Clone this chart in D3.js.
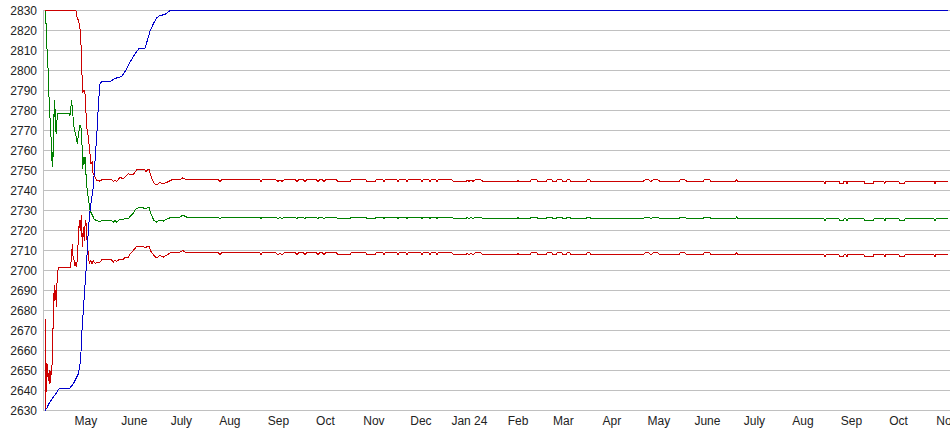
<!DOCTYPE html>
<html>
<head>
<meta charset="utf-8">
<script src="https://cdn.jsdelivr.net/npm/d3@7"></script>
<style>
  html, body { margin: 0; padding: 0; background: #fff; }
  svg { display: block; }
  text { font-family: "Liberation Sans", Arial, sans-serif; font-size: 12px; fill: #222; }
</style>
</head>
<body>
<script>
// ---------- DATA ----------
// days since 2023-04-05 (UTC)
const START_UTC = Date.UTC(2023, 3, 5);

const monthLabels = ["May","June","July","Aug","Sep","Oct","Nov","Dec","Jan 24","Feb","Mar","Apr","May","June","July","Aug","Sep","Oct","Nov"];

const blueDays = [0,1.0,2.5,5.2,7.0,8.4,9.5,15.5,18.0,21.2,22.7,23.4,24.4,25.5,26.6,27.6,28.7,30.8,31.9,33.3,34.2,35.1,36.1,41.4,43.6,45.7,48.9,50.4,52.1,54.2,57.4,60.2,63.8,65.3,67.0,69.1,71.3,73.4,76.6,79.8,576.8];
const blueVals = [2630,2631,2633.5,2636.6,2638.5,2640.5,2641,2641,2643.3,2648.3,2655,2668.3,2680,2693,2705,2720,2730,2741.7,2755,2771.7,2785,2793.3,2794.5,2794.5,2795.5,2796.3,2797,2798.7,2800.8,2804.2,2808.3,2811.2,2811.2,2815,2819.7,2823.3,2826.3,2827.5,2828,2830,2830];

const upperEarlyDays = [0,19.7,20.6,21.2,21.8,22.7,23.4,24.0,24.8,25.5,26.6,27.6,28.7,29.3,30.0,30.4,30.8,31.9,33.0,35.1,36.1,42.5,43.6,44.6,45.7,47.8,49.9,53.1,56.3,58.5,63.8,64.5,65.3,66.5,67.4,69.5,71.3,73.4,75.5,78.0,80.8,86.1,87.9];
const upperEarlyVals = [2830,2830,2825.8,2825.3,2823.3,2818.3,2801.7,2789,2790.3,2788.3,2771.7,2766.7,2758.3,2753.3,2754.2,2749.2,2748.3,2746.7,2745,2744.7,2745.3,2745.3,2744.5,2745.3,2744.5,2746.7,2745.8,2748.3,2748,2750.3,2750.3,2749.5,2750.3,2750.3,2747.5,2743.7,2742.8,2744,2743.3,2744.2,2745.3,2745.3,2746.3];

const greenEarlyDays = [0,0.6,1.0,1.7,2.5,3.1,3.8,4.2,4.6,4.9,5.5,5.9,6.3,6.5,7.0,7.4,8.0,15.5,15.9,16.5,17.0,17.4,18.0,18.6,19.5,20.6,21.5,22.3,22.9,23.8,24.0,24.7,25.0,25.5,26.1,26.9,27.8,28.7,29.8,30.8,31.2,32.5,34.0,35.1,36.1,42.5,43.6,44.6,45.7,47.8,49.9,51.0,53.1,54.2,56.3,58.0,59.5,62.7,63.8,65.3,66.5,67.4,69.5,71.3,73.4,75.5,78.0,80.8,86.1,87.9];
const greenEarlyVals = [2830,2823.3,2813.3,2805,2786.7,2776.7,2766.7,2755,2759.2,2751.7,2771.7,2785,2776.7,2780.8,2768.3,2773.3,2778.3,2778.3,2777.5,2781.7,2785.3,2780,2775.8,2770.8,2768.3,2763.3,2769.2,2772.5,2771.7,2760,2750.8,2756.7,2753.3,2756.7,2748.3,2740,2735,2730,2728.3,2726.7,2725.8,2725,2724.7,2724.2,2725,2725,2724.2,2725,2724.2,2725.8,2725.4,2726.3,2725.8,2727,2728.7,2730.8,2731.3,2731.3,2730.8,2731.3,2731.3,2728.7,2725,2724.2,2725.3,2724.7,2725.8,2726.7,2726.7,2727.7];

const lowerEarlyDays = [0,0.1,0.6,1.0,1.4,2.0,2.7,3.1,3.6,4.2,4.9,5.2,5.9,6.3,6.8,7.2,7.8,8.9,16.3,17.0,17.4,17.8,18.5,19.1,19.7,20.2,20.8,21.5,21.8,22.5,23.1,23.8,24.4,25.0,25.7,26.3,26.9,27.6,28.2,29.1,30.0,30.8,32.1,33.3,35.1,36.1,42.5,43.6,44.6,45.7,47.8,49.9,51.0,53.1,54.2,56.3,58.5,62.7,63.8,65.3,66.5,67.4,69.5,71.3,73.4,75.5,78.0,80.8,86.1,87.9];
const lowerEarlyVals = [2630,2675.8,2653.3,2639.2,2653.3,2645,2650,2643.3,2649.2,2648.3,2661.7,2680,2692.5,2685,2690,2681.7,2699.2,2701.7,2701.7,2708.3,2713.3,2707.5,2705,2702.5,2704.2,2701.7,2710,2718.3,2725,2720,2727.5,2711.7,2721.7,2715,2725,2723.3,2713.3,2708.3,2703.3,2705,2703.3,2705,2703.3,2704.2,2704.2,2705.3,2705.3,2704.2,2705.3,2704.6,2705.8,2705.3,2706.7,2706.3,2708.3,2710,2712,2712,2711.3,2712,2712,2709.7,2707.5,2706.3,2707.5,2706.7,2707.8,2709.2,2709.2,2710];

// shared day positions of the long, nearly flat tail
const lateDays = [90.4,110.6,111.7,112.8,137.2,137.9,138.5,147.5,148.7,150.0,
  151.3,152.6,159.9,160.9,161.8,165.0,166.0,166.9,173.3,174.3,
  175.2,177.1,178.1,179.1,186.1,187.0,194.7,195.3,204.9,205.5,
  210.7,211.3,215.8,216.4,217.1,224.7,225.4,226.0,230.5,231.1,
  231.7,240.0,240.7,241.3,245.2,245.8,246.4,249.6,250.3,250.9,
  259.8,261.1,268.8,269.4,270.7,272.0,273.3,274.5,278.4,279.6,
  301.4,302.0,302.6,309.7,310.3,314.1,314.8,319.9,320.5,323.7,
  324.4,326.3,326.9,330.1,330.8,332.7,333.3,335.2,335.9,345.5,
  346.1,348.0,348.6,381.8,383.1,385.6,386.9,388.2,391.4,392.7,
  404.8,405.4,408.7,409.9,420.2,420.8,424.6,425.3,440.6,441.6,
  442.5,497.4,498.0,498.7,507.0,507.6,509.5,510.2,511.5,512.1,
  512.7,523.0,523.6,528.7,529.3,535.7,536.3,536.9,545.3,545.9,
  548.5,549.2,567.7,568.3,568.9,576.8];

const upperLateVals = [2745.3,2745.3,2744.5,2745.3,2745.3,2744.5,2745.3,2745.3,2744.5,2745.3,
  2744.5,2745.3,2745.3,2744.5,2745.3,2745.3,2744.5,2745.3,2745.3,2744.5,
  2745.3,2745.3,2744.5,2745.3,2745.3,2744.5,2744.5,2745.3,2745.3,2744.5,
  2744.5,2745.3,2745.3,2744.5,2745.3,2745.3,2744.5,2745.3,2745.3,2744.5,
  2745.3,2745.3,2744.5,2745.3,2745.3,2744.5,2745.3,2745.3,2744.5,2745.3,
  2745.3,2744.5,2744.5,2745.3,2744.5,2745.3,2744.5,2745.3,2745.3,2744.5,
  2744.5,2745.3,2744.5,2744.5,2745.3,2745.3,2744.5,2744.5,2745.3,2745.3,
  2744.5,2744.5,2745.3,2745.3,2744.5,2744.5,2745.3,2745.3,2744.5,2744.5,
  2745.3,2745.3,2744.5,2744.5,2745.3,2745.3,2744.5,2745.3,2745.3,2744.5,
  2744.5,2745.3,2745.3,2744.5,2744.5,2745.3,2745.3,2744.5,2744.5,2745.3,
  2744.5,2744.5,2743.4,2744.5,2744.5,2743.4,2743.4,2744.5,2744.5,2743.4,
  2744.5,2744.5,2743.4,2743.4,2744.5,2744.5,2743.4,2744.5,2744.5,2743.4,
  2743.4,2744.5,2744.5,2743.4,2744.5,2744.5];

const greenLateVals = [2726.7,2726.7,2725.8,2726.7,2726.7,2725.8,2726.7,2726.7,2725.8,2726.7,
  2725.8,2726.7,2726.7,2725.8,2726.7,2726.7,2725.8,2726.7,2726.7,2725.8,
  2726.7,2726.7,2725.8,2726.7,2726.7,2725.8,2725.8,2726.7,2726.7,2725.8,
  2725.8,2726.7,2726.7,2725.8,2726.7,2726.7,2725.8,2726.7,2726.7,2725.8,
  2726.7,2726.7,2725.8,2726.7,2726.7,2725.8,2726.7,2726.7,2725.8,2726.7,
  2726.7,2725.8,2725.8,2726.7,2725.8,2726.7,2725.8,2726.7,2726.7,2725.8,
  2725.8,2726.7,2725.8,2725.8,2726.7,2726.7,2725.8,2725.8,2726.7,2726.7,
  2725.8,2725.8,2726.7,2726.7,2725.8,2725.8,2726.7,2726.7,2725.8,2725.8,
  2726.7,2726.7,2725.8,2725.8,2726.7,2726.7,2725.8,2726.7,2726.7,2725.8,
  2725.8,2726.7,2726.7,2725.8,2725.8,2726.7,2726.7,2725.8,2725.8,2726.7,
  2725.8,2725.8,2724.8,2725.8,2725.8,2724.8,2724.8,2725.8,2725.8,2724.8,
  2725.8,2725.8,2724.8,2724.8,2725.8,2725.8,2724.8,2725.8,2725.8,2724.8,
  2724.8,2725.8,2725.8,2724.8,2725.8,2725.8];

const lowerLateVals = [2708.8,2708.8,2707.9,2708.8,2708.8,2707.9,2708.8,2708.8,2707.9,2708.8,
  2707.9,2708.8,2708.8,2707.9,2708.8,2708.8,2707.9,2708.8,2708.8,2707.9,
  2708.8,2708.8,2707.9,2708.8,2708.8,2707.9,2707.9,2708.8,2708.8,2707.9,
  2707.9,2708.8,2708.8,2707.9,2708.8,2708.8,2707.9,2708.8,2708.8,2707.9,
  2708.8,2708.8,2707.9,2708.8,2708.8,2707.9,2708.8,2708.8,2707.9,2708.8,
  2708.8,2707.9,2707.9,2708.8,2707.9,2708.8,2707.9,2708.8,2708.8,2707.9,
  2707.9,2708.8,2707.9,2707.9,2708.8,2708.8,2707.9,2707.9,2708.8,2708.8,
  2707.9,2707.9,2708.8,2708.8,2707.9,2707.9,2708.8,2708.8,2707.9,2707.9,
  2708.8,2708.8,2707.9,2707.9,2708.8,2708.8,2707.9,2708.8,2708.8,2707.9,
  2707.9,2708.8,2708.8,2707.9,2707.9,2708.8,2708.8,2707.9,2707.9,2708.8,
  2707.9,2707.9,2706.9,2707.9,2707.9,2706.9,2706.9,2707.9,2707.9,2706.9,
  2707.9,2707.9,2706.9,2706.9,2707.9,2707.9,2706.9,2707.9,2707.9,2706.9,
  2706.9,2707.9,2707.9,2706.9,2707.9,2707.9];

// ---------- CHART ----------
const W = 950, H = 435;
const svg = d3.select("body").append("svg").attr("width", W).attr("height", H);
svg.append("rect").attr("width", W).attr("height", H).attr("fill", "#fff");

const toDate = d => new Date(START_UTC + d * 86400000);
const x = d3.scaleUtc()
  .domain([new Date(Date.UTC(2023, 3, 4, 7, 12)), new Date(Date.UTC(2024, 10, 2, 21, 36))])
  .range([44, 950]);
const y = d3.scaleLinear().domain([2630, 2830]).range([410.5, 10.5]);

// gridlines
const yTicks = y.ticks(20);
svg.append("g").selectAll("line").data(yTicks).join("line")
  .attr("x1", 44).attr("x2", W)
  .attr("y1", d => y(d)).attr("y2", d => y(d))
  .attr("stroke", "#c0c0c0").attr("stroke-width", 1);

// left axis line
svg.append("line").attr("x1", 43.5).attr("x2", 43.5).attr("y1", 10).attr("y2", 411)
  .attr("stroke", "#c0c0c0");

// y labels
svg.append("g").selectAll("text").data(yTicks).join("text")
  .attr("x", 37).attr("y", d => y(d))
  .attr("text-anchor", "end").attr("dominant-baseline", "central")
  .text(d => d);

// x labels
const monthTicks = d3.utcMonth.range(new Date(Date.UTC(2023, 4, 1)), new Date(Date.UTC(2024, 10, 2)));
svg.append("g").selectAll("text").data(monthTicks).join("text")
  .attr("x", d => x(d)).attr("y", 425)
  .attr("text-anchor", "middle")
  .text((d, i) => monthLabels[i]);

// series
const zip = (a, b) => a.map((d, i) => [d, b[i]]);
const line = d3.line().x(d => x(toDate(d[0]))).y(d => y(d[1]));

const series = [
  { pts: zip(lowerEarlyDays, lowerEarlyVals).concat(zip(lateDays, lowerLateVals)), color: "#cc0000" },
  { pts: zip(greenEarlyDays, greenEarlyVals).concat(zip(lateDays, greenLateVals)), color: "#008000" },
  { pts: zip(upperEarlyDays, upperEarlyVals).concat(zip(lateDays, upperLateVals)), color: "#cc0000" },
  { pts: zip(blueDays, blueVals), color: "#0000cc" }
];

svg.append("g").selectAll("path").data(series).join("path")
  .attr("d", d => line(d.pts))
  .attr("fill", "none")
  .attr("stroke", d => d.color)
  .attr("stroke-width", 1)
  .attr("shape-rendering", "crispEdges");
</script>
</body>
</html>
